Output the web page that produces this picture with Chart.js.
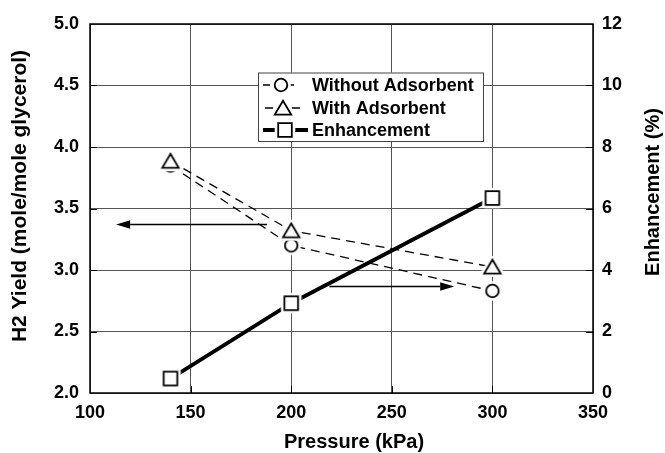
<!DOCTYPE html>
<html>
<head>
<meta charset="utf-8">
<script src="https://cdn.jsdelivr.net/npm/chart.js@4/dist/chart.umd.min.js"></script>
<style>
  html, body { margin: 0; padding: 0; background: #fff; }
  canvas { display: block; }
</style>
</head>
<body>
<canvas id="chart" width="665" height="453"></canvas>
<script>
// Reactor pressure (kPa)
const pressure = [140, 200, 300];
// H2 yield, mole H2 per mole glycerol
const withoutAdsorbent = [3.85, 3.20, 2.83];
const withAdsorbent = [3.885, 3.32, 3.025];
// Yield enhancement (%)
const enhancement = [0.47, 2.92, 6.34];

// Axis ticks
const pressureTicks = [100, 150, 200, 250, 300, 350];
const yieldTicks = [2.0, 2.5, 3.0, 3.5, 4.0, 4.5, 5.0];
const enhancementTicks = [0, 2, 4, 6, 8, 10, 12];

// Arrows pointing each curve family to its axis
const yieldArrowX = [188, 113];
const yieldArrowY = 3.37;
const enhancementArrowX = [219, 281];
const enhancementArrowY = 3.47;

const seriesLabels = ['Without Adsorbent', 'With Adsorbent', 'Enhancement'];
const xTitle = 'Pressure (kPa)';
const yTitle = 'H2 Yield (mole/mole glycerol)';
const y2Title = 'Enhancement (%)';

const FONT = '"Liberation Sans", Arial, Helvetica, sans-serif';

// Open markers with a white halo so lines stop short of them
function markerImage(shape) {
  const S = 28, c = document.createElement('canvas');
  c.width = S; c.height = S;
  const g = c.getContext('2d');
  const m = S / 2;
  function path() {
    g.beginPath();
    if (shape === 'circle') {
      g.arc(m, m, 6.3, 0, Math.PI * 2);
    } else if (shape === 'square') {
      g.rect(m - 6.8, m - 6.8, 13.6, 13.6);
    } else {
      g.moveTo(m, m - 7.2);
      g.lineTo(m + 8.2, m + 6.6);
      g.lineTo(m - 8.2, m + 6.6);
      g.closePath();
    }
  }
  path();
  g.lineJoin = 'round';
  g.strokeStyle = '#fff';
  g.lineWidth = 7;
  g.stroke();
  g.fillStyle = '#fff';
  g.fill();
  g.lineJoin = 'miter';
  g.strokeStyle = '#000';
  g.lineWidth = 1.8;
  g.stroke();
  return c;
}

const circleImg = markerImage('circle');
const triangleImg = markerImage('triangle');
const squareImg = markerImage('square');

const toPoints = (ys) => pressure.map((x, i) => ({ x: x, y: ys[i] }));

function drawArrow(ctx, x0, x1, y) {
  const dir = Math.sign(x1 - x0), head = 14, half = 4.2;
  ctx.beginPath();
  ctx.moveTo(x0, y);
  ctx.lineTo(x1 - dir * head, y);
  ctx.lineWidth = 1.6;
  ctx.strokeStyle = '#000';
  ctx.stroke();
  ctx.beginPath();
  ctx.moveTo(x1, y);
  ctx.lineTo(x1 - dir * head, y - half);
  ctx.lineTo(x1 - dir * head, y + half);
  ctx.closePath();
  ctx.fillStyle = '#000';
  ctx.fill();
}

const decorations = {
  id: 'decorations',
  afterDatasetsDraw(chart) {
    const { ctx, scales } = chart;
    ctx.save();
    const ya = Math.round(scales.y.getPixelForValue(yieldArrowY)) + 0.5;
    drawArrow(ctx, scales.x.getPixelForValue(yieldArrowX[0]), scales.x.getPixelForValue(yieldArrowX[1]), ya);
    const yb = Math.round(scales.y2.getPixelForValue(enhancementArrowY)) + 0.5;
    drawArrow(ctx, scales.x.getPixelForValue(enhancementArrowX[0]), scales.x.getPixelForValue(enhancementArrowX[1]), yb);
    ctx.restore();
  },
  afterDraw(chart) {
    const { ctx, chartArea: a, scales } = chart;
    ctx.save();

    // plot frame
    ctx.strokeStyle = '#000';
    ctx.lineWidth = 1.5;
    ctx.strokeRect(a.left, a.top, a.right - a.left, a.bottom - a.top);

    // inward tick marks
    ctx.lineWidth = 1;
    ctx.beginPath();
    yieldTicks.slice(1, -1).forEach(v => {
      const p = Math.round(scales.y.getPixelForValue(v)) + 0.5;
      ctx.moveTo(a.left, p); ctx.lineTo(a.left + 7, p);
    });
    enhancementTicks.slice(1, -1).forEach(v => {
      const p = Math.round(scales.y2.getPixelForValue(v)) + 0.5;
      ctx.moveTo(a.right - 7, p); ctx.lineTo(a.right, p);
    });
    pressureTicks.slice(1, -1).forEach(v => {
      const p = Math.round(scales.x.getPixelForValue(v)) + 0.5;
      ctx.moveTo(p, a.bottom); ctx.lineTo(p, a.bottom - 7);
    });
    ctx.stroke();

    // axis titles
    ctx.fillStyle = '#000';
    ctx.textAlign = 'center';
    ctx.textBaseline = 'middle';
    ctx.font = 'bold 20px ' + FONT;
    ctx.fillText(xTitle, 354, 442);

    ctx.save();
    ctx.translate(20, 196);
    ctx.rotate(-Math.PI / 2);
    ctx.font = 'bold 21px ' + FONT;
    ctx.fillText(yTitle, 0, 0);
    ctx.restore();

    ctx.save();
    ctx.translate(653, 192);
    ctx.rotate(-Math.PI / 2);
    ctx.font = 'bold 20px ' + FONT;
    ctx.fillText(y2Title, 0, 0);
    ctx.restore();

    // legend
    const bx = 258, by = 72.5, bw = 225, bh = 68.5;
    ctx.fillStyle = '#fff';
    ctx.fillRect(bx, by, bw, bh);
    ctx.strokeStyle = '#444';
    ctx.lineWidth = 1;
    ctx.strokeRect(bx + 0.5, by + 0.5, bw, bh);

    const rows = [
      { y: 85, img: circleImg, mx: 281, segs: [[263, 270], [289, 294]], width: 1.4 },
      { y: 108, img: triangleImg, mx: 283, segs: [[265, 273], [292, 300]], width: 1.4 },
      { y: 130, img: squareImg, mx: 285, segs: [[263, 308]], width: 3.8 }
    ];
    rows.forEach((r, i) => {
      ctx.strokeStyle = '#000';
      ctx.lineWidth = r.width;
      ctx.beginPath();
      r.segs.forEach(s => { ctx.moveTo(s[0], r.y); ctx.lineTo(s[1], r.y); });
      ctx.stroke();
      ctx.drawImage(r.img, r.mx - r.img.width / 2, r.y - r.img.height / 2);
      ctx.fillStyle = '#000';
      ctx.textAlign = 'left';
      ctx.textBaseline = 'middle';
      ctx.font = 'bold 18px ' + FONT;
      ctx.fillText(chart.data.datasets[i].label, 312, r.y + 1);
    });

    ctx.restore();
  }
};

const tickFont = { family: FONT, size: 18, weight: 'bold' };

new Chart(document.getElementById('chart'), {
  type: 'scatter',
  data: {
    datasets: [
      {
        label: seriesLabels[0],
        data: toPoints(withoutAdsorbent),
        yAxisID: 'y',
        showLine: true,
        borderColor: '#000',
        borderWidth: 1.3,
        borderDash: [9, 6],
        pointStyle: circleImg,
        pointRadius: 6,
        order: 2
      },
      {
        label: seriesLabels[1],
        data: toPoints(withAdsorbent),
        yAxisID: 'y',
        showLine: true,
        borderColor: '#000',
        borderWidth: 1.3,
        borderDash: [9, 6],
        pointStyle: triangleImg,
        pointRadius: 6,
        order: 1
      },
      {
        label: seriesLabels[2],
        data: toPoints(enhancement),
        yAxisID: 'y2',
        showLine: true,
        borderColor: '#000',
        borderWidth: 3.8,
        pointStyle: squareImg,
        pointRadius: 6,
        order: 3
      }
    ]
  },
  options: {
    responsive: false,
    animation: false,
    devicePixelRatio: 1,
    layout: { padding: { top: 24, left: 0, right: 0, bottom: 0 } },
    plugins: {
      legend: { display: false },
      tooltip: { enabled: false }
    },
    scales: {
      x: {
        type: 'linear',
        min: pressureTicks[0],
        max: pressureTicks[pressureTicks.length - 1],
        afterBuildTicks: s => { s.ticks = pressureTicks.map(v => ({ value: v })); },
        afterFit: s => { s.height = 60; },
        border: { display: false },
        grid: { color: '#555', lineWidth: 1, drawTicks: false },
        ticks: { font: tickFont, color: '#000', padding: 9, maxRotation: 0, autoSkip: false }
      },
      y: {
        type: 'linear',
        position: 'left',
        min: yieldTicks[0],
        max: yieldTicks[yieldTicks.length - 1],
        afterBuildTicks: s => { s.ticks = yieldTicks.map(v => ({ value: v })); },
        afterFit: s => { s.width = 90; },
        border: { display: false },
        grid: { color: '#555', lineWidth: 1, drawTicks: false },
        ticks: { font: tickFont, color: '#000', padding: 11, callback: v => Number(v).toFixed(1) }
      },
      y2: {
        type: 'linear',
        position: 'right',
        min: enhancementTicks[0],
        max: enhancementTicks[enhancementTicks.length - 1],
        afterBuildTicks: s => { s.ticks = enhancementTicks.map(v => ({ value: v })); },
        afterFit: s => { s.width = 72; },
        border: { display: false },
        grid: { drawOnChartArea: false, drawTicks: false },
        ticks: { font: tickFont, color: '#000', padding: 9 }
      }
    }
  },
  plugins: [decorations]
});
</script>
</body>
</html>
